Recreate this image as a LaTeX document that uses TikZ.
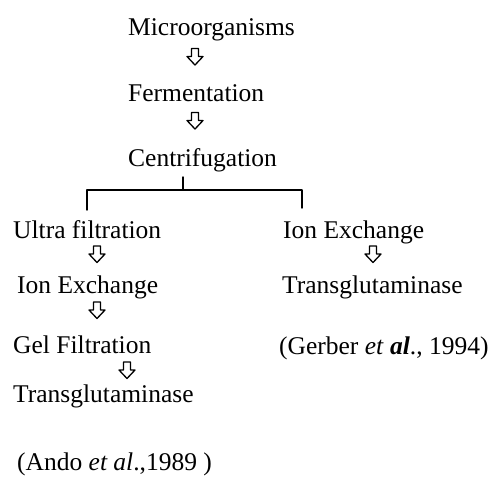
\documentclass[tikz,border=0pt]{standalone}
\usepackage{fontspec}
\setmainfont{Liberation Serif}

\begin{document}
\begin{tikzpicture}[x=1pt,y=-1pt,line cap=round,line join=round,
    step label/.style={anchor=base west,inner sep=0pt,font=\fontsize{25.5}{30}\selectfont},
    down arrow/.pic={\draw[line width=1.3pt] (-3.5,-8) -- (-3.5,0) -- (-8,0) -- (0,8.5)
      -- (8,0) -- (3.5,0) -- (3.5,-8) -- cycle;},
    branch/.style={line width=1.4pt}]
  % page
  \useasboundingbox (0,0) rectangle (497,495);

  % main stem
  \node[step label] (micro) at (128,36) {Microorganisms};
  \node[step label] (ferm) at (128,101) {Fermentation};
  \node[step label] (centri) at (128,166) {Centrifugation};
  \pic (arr1) at (195,56.5) {down arrow};
  \pic (arr2) at (195,120.5) {down arrow};

  % split
  \coordinate (split) at (183,190);
  \coordinate (leftend) at (87,190);
  \coordinate (rightend) at (302,190);
  \coordinate (lefttip) at (87,210);
  \coordinate (righttip) at (302,208);
  \draw[branch] (split |- 0,177) -- (split);
  \draw[branch] (lefttip) -- (leftend) -- (rightend) -- (righttip);

  % left branch
  \node[step label] (ultra) at (13,238) {Ultra filtration};
  \node[step label] (ionL) at (17,293) {Ion Exchange};
  \node[step label] (gel) at (13,353) {Gel Filtration};
  \node[step label] (tgL) at (13,402) {Transglutaminase};
  \node[step label] (ando) at (17,470) {(Ando \textit{et al}.,1989 )};
  \pic (arrL1) at (97,254) {down arrow};
  \pic (arrL2) at (97,310) {down arrow};
  \pic (arrL3) at (127,370) {down arrow};

  % right branch
  \node[step label] (ionR) at (283,238) {Ion Exchange};
  \node[step label] (tgR) at (282,293) {Transglutaminase};
  \node[step label] (gerber) at (279,354) {(Gerber \textit{et} \textbf{\textit{al}}., 1994)};
  \pic (arrR1) at (373,254) {down arrow};
\end{tikzpicture}
\end{document}
